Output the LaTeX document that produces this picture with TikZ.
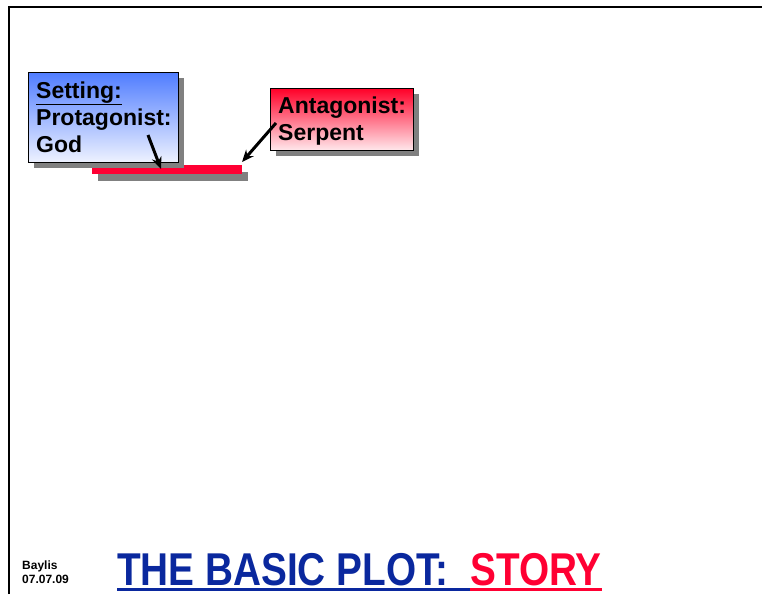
\documentclass[tikz,border=0pt]{standalone}
\usepackage{fontspec}
\usepackage{graphicx}
\setmainfont{Liberation Sans}
\usetikzlibrary{shadows,arrows.meta}
\definecolor{titleblue}{RGB}{10,40,158}
\definecolor{titlered}{RGB}{255,0,51}
\definecolor{darkbar}{RGB}{190,0,38}
\definecolor{boxblue}{RGB}{80,125,255}
\definecolor{boxbluelow}{RGB}{238,242,255}
\definecolor{boxred}{RGB}{255,0,40}
\definecolor{boxredlow}{RGB}{255,232,236}
\definecolor{shadowgray}{RGB}{128,128,128}
\tikzset{
  sh/.style={general shadow={shadow xshift=6pt,shadow yshift=-6pt,fill=shadowgray}},
  card/.style={draw=black,line width=0.8pt,sh,anchor=north west,inner sep=0pt},
  cardtxt/.style={anchor=base west,inner sep=0pt,font=\bfseries\fontsize{23}{27}\selectfont},
  arr/.style={line width=3pt,-{Stealth[length=12pt,width=10pt]}},
}
\begin{document}
\begin{tikzpicture}[x=1pt,y=-1pt]
\useasboundingbox (0,0) rectangle (762,594);
\fill[white] (0,0) rectangle (762,594);
% frame
\draw[line width=2pt] (9,594) -- (9,7) -- (762,7);
% red timeline bar
\fill[shadowgray] (98,172) rectangle (248,181);
\fill[titlered] (92,165) rectangle (242,174);
\fill[darkbar] (92,165) rectangle (184,168);
\coordinate (barmid) at (161,169);
\coordinate (barend) at (242,162);
% blue card
\node[card,minimum width=150pt,minimum height=90pt,top color=boxblue,bottom color=boxbluelow] (setting) at (28,72) {};
\node[cardtxt] (s1) at (36,98) {\underline{Setting:}};
\node[cardtxt] (s2) at (36,125) {Protagonist:};
\node[cardtxt] (s3) at (36,152) {God};
% red card
\node[card,minimum width=143pt,minimum height=62pt,top color=boxred,bottom color=boxredlow] (antag) at (270,88) {};
\node[cardtxt] (r1) at (278,113) {Antagonist:};
\node[cardtxt] (r2) at (278,140) {Serpent};
% arrows
\coordinate (a1) at (148,135);
\coordinate (a2) at (276,123);
\draw[arr] (a1) -- (barmid);
\draw[arr] (a2) -- (barend);
% footer
\node[anchor=base west,inner sep=0pt,font=\bfseries\fontsize{12}{15}\selectfont] (baylis1) at (22,569) {Baylis};
\node[anchor=base west,inner sep=0pt,font=\bfseries\fontsize{12}{15}\selectfont] (baylis2) at (22,583) {07.07.09};
\node[anchor=base west,inner sep=0pt,font=\bfseries\fontsize{46}{50}\selectfont,text=titleblue] (t1) at (117,585)
  {\scalebox{0.842}[1]{THE BASIC PLOT:\ \ }};
\node[anchor=base west,inner sep=0pt,font=\bfseries\fontsize{46}{50}\selectfont,text=titlered] (t2) at (t1.base east)
  {\scalebox{0.842}[1]{STORY}};
\fill[titleblue] (t1.base west) ++(0,3) rectangle ([yshift=-6pt]t1.base east);
\fill[titlered] (t2.base west) ++(0,3) rectangle ([yshift=-6pt]t2.base east);
\end{tikzpicture}
\end{document}
